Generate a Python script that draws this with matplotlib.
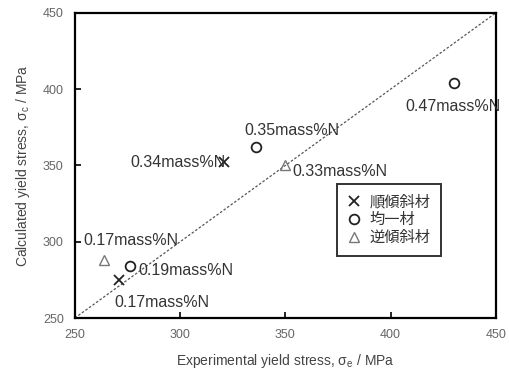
import matplotlib.pyplot as plt

plt.rcParams['font.family'] = ['Liberation Sans', 'Noto Sans CJK JP', 'DejaVu Sans']

# 順傾斜材 (x marker)
grad_x = [321, 271]
grad_y = [352, 275]
grad_labels = ['0.34mass%N', '0.17mass%N']

# 均一材 (circle)
unif_x = [336, 430, 276]
unif_y = [362, 404, 284]
unif_labels = ['0.35mass%N', '0.47mass%N', '0.19mass%N']

# 逆傾斜材 (triangle)
rev_x = [350, 264]
rev_y = [350, 288]
rev_labels = ['0.33mass%N', '0.17mass%N']

series_names = ['順傾斜材', '均一材', '逆傾斜材']

fig = plt.figure(figsize=(5.09, 3.8), dpi=100)
ax = fig.add_axes([0.147, 0.163, 0.827, 0.803])

ax.plot([250, 450], [250, 450], linestyle=(0, (2, 1.5)), color='#555555', linewidth=0.9)

ax.plot(grad_x, grad_y, 'x', color='#222222', markersize=7, markeredgewidth=1.3,
        linestyle='none', label=series_names[0])
ax.plot(unif_x, unif_y, 'o', color='#222222', markerfacecolor='none', markersize=7,
        markeredgewidth=1.3, linestyle='none', label=series_names[1])
ax.plot(rev_x, rev_y, '^', color='#777777', markerfacecolor='none', markersize=7,
        markeredgewidth=1.0, linestyle='none', label=series_names[2])

fs = 11.5
txt = '#333333'
# label offsets in points relative to each point
ax.annotate(grad_labels[0], (grad_x[0], grad_y[0]), xytext=(1, 0), textcoords='offset points',
            ha='right', va='center', fontsize=fs, color=txt)
ax.annotate(grad_labels[1], (grad_x[1], grad_y[1]), xytext=(-3, -16), textcoords='offset points',
            ha='left', va='center', fontsize=fs, color=txt)
ax.annotate(unif_labels[0], (unif_x[0], unif_y[0]), xytext=(-8, 12), textcoords='offset points',
            ha='left', va='center', fontsize=fs, color=txt)
ax.annotate(unif_labels[1], (unif_x[1], unif_y[1]), xytext=(-35, -17), textcoords='offset points',
            ha='left', va='center', fontsize=fs, color=txt)
ax.annotate(unif_labels[2], (unif_x[2], unif_y[2]), xytext=(6, -3), textcoords='offset points',
            ha='left', va='center', fontsize=fs, color=txt)
ax.annotate(rev_labels[0], (rev_x[0], rev_y[0]), xytext=(5, -4), textcoords='offset points',
            ha='left', va='center', fontsize=fs, color=txt)
ax.annotate(rev_labels[1], (rev_x[1], rev_y[1]), xytext=(-15, 14), textcoords='offset points',
            ha='left', va='center', fontsize=fs, color=txt)

ax.set_xlim(250, 450)
ax.set_ylim(250, 450)
ax.set_xticks([250, 300, 350, 400, 450])
ax.set_yticks([250, 300, 350, 400, 450])
ax.tick_params(direction='in', length=4, width=1.2, labelsize=9, labelcolor='#666666',
               top=False, right=False, pad=8)
for s in ax.spines.values():
    s.set_linewidth(1.6)

ax.set_xlabel('Experimental yield stress, $\\mathregular{\\sigma_e}$ / MPa', fontsize=10,
              color='#444444', labelpad=8)
ax.set_ylabel('Calculated yield stress, $\\mathregular{\\sigma_c}$ / MPa', fontsize=10,
              color='#444444', labelpad=8)

leg = ax.legend(loc='upper left', bbox_to_anchor=(0.623, 0.44), fontsize=11, frameon=True,
                fancybox=False, edgecolor='black', handlelength=0.8, handletextpad=0.6,
                borderpad=0.7, labelspacing=0.25, borderaxespad=0)
leg.get_frame().set_linewidth(1.4)
for t in leg.get_texts():
    t.set_color('#333333')

fig.savefig('out.png', dpi=100)
